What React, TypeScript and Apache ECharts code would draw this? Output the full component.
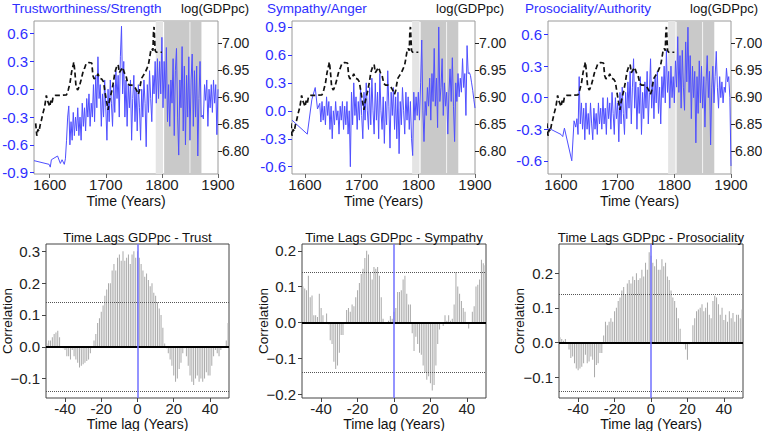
import React, { useEffect, useRef } from "react";
import * as echarts from "echarts";

const FONT = "'Liberation Sans', Arial, Helvetica, sans-serif";
const FONT_TICK = "'Liberation Sans Narrow', 'Arial Narrow', 'Liberation Sans', Arial, sans-serif";
const BLUE_TEXT = "#2f2fff";
const BLUE_LINE = "#4f4fff";

// ---------- GDP (log GDP per capita), shared by the three top panels ----------
const GDP_YEARS = [
  1575, 1577, 1579, 1581, 1583, 1585, 1588, 1591, 1594, 1596, 1598, 1600, 1602, 1604, 1606, 1610, 1620, 1630,
  1633, 1636, 1639, 1642, 1643, 1645, 1647, 1650, 1653, 1656, 1659, 1662, 1665, 1670, 1675, 1677, 1679, 1683,
  1686, 1689, 1693, 1696, 1698, 1700, 1702, 1704, 1706, 1708, 1711, 1714, 1716, 1719, 1722, 1724, 1727, 1730,
  1733, 1736, 1739, 1742, 1746, 1750, 1753, 1756, 1758, 1760, 1762, 1764, 1767, 1770, 1773, 1776, 1778, 1780,
  1782, 1784, 1785, 1786, 1788, 1790, 1795, 1800,
];
const GDP_LOG = [
  6.851, 6.828, 6.840, 6.836, 6.848, 6.856, 6.870, 6.882, 6.903, 6.893, 6.888, 6.882, 6.893, 6.888, 6.900, 6.903, 6.903, 6.904,
  6.913, 6.925, 6.946, 6.960, 6.965, 6.945, 6.918, 6.913, 6.920, 6.932, 6.945, 6.953, 6.962, 6.964, 6.963, 6.940, 6.934, 6.935,
  6.943, 6.935, 6.933, 6.928, 6.913, 6.900, 6.888, 6.876, 6.890, 6.900, 6.913, 6.930, 6.945, 6.955, 6.960, 6.945, 6.950, 6.955,
  6.945, 6.940, 6.925, 6.922, 6.922, 6.920, 6.916, 6.910, 6.905, 6.912, 6.925, 6.935, 6.940, 6.945, 6.952, 6.960, 6.972, 6.985,
  6.990, 6.986, 7.020, 7.030, 6.986, 6.983, 6.983, 6.983,
];

// ---------- Years of the dense part of the three moral series ----------
const DENSE_YEARS = [
  1630, 1632, 1634, 1636, 1638, 1640, 1642, 1644, 1646, 1648,
  1650, 1652, 1654, 1656, 1658, 1660, 1662, 1664, 1666, 1668,
  1670, 1672, 1674, 1676, 1678, 1680, 1682, 1684, 1686, 1688,
  1690, 1692, 1694, 1696, 1698, 1700, 1702, 1704, 1706, 1708,
  1710, 1712, 1714, 1716, 1718, 1720, 1722, 1724, 1726, 1728,
  1730, 1732, 1734, 1736, 1738, 1740, 1742, 1744, 1746, 1748,
  1750, 1752, 1754, 1756, 1758, 1760, 1762, 1764, 1766, 1768,
  1770, 1772, 1774, 1776, 1778, 1780, 1782, 1784, 1786, 1788,
  1790, 1792, 1794, 1796, 1798, 1800, 1802, 1804, 1806, 1808,
  1810, 1812, 1814, 1816, 1818, 1820, 1822, 1824, 1826, 1828,
  1830, 1832, 1834, 1836, 1838, 1840, 1842, 1844, 1846, 1848,
  1850, 1852, 1854, 1856, 1858, 1860, 1862, 1864, 1866, 1868,
  1870, 1872, 1874, 1876, 1878, 1880, 1882, 1884, 1886, 1888,
  1890, 1892, 1894, 1896, 1898, 1900,
];

// Trustworthiness / Strength
const TRUST_EARLY_YEARS = [1572, 1599, 1601, 1603, 1614, 1619, 1622, 1626, 1628];
const TRUST_EARLY = [-0.77, -0.81, -0.84, -0.76, -0.72, -0.8, -0.76, -0.81, -0.75];
const TRUST_DENSE = [
  -0.55, -0.3, -0.18, -0.6, -0.35, -0.55, -0.25, -0.5, -0.3, -0.45,
  -0.2, -0.5, -0.3, -0.55, -0.15, -0.4, -0.2, -0.45, -0.1, -0.3,
  -0.05, -0.4, -0.15, -0.3, 0.05, -0.35, 0.15, -0.2, 0.35, -0.1,
  0.05, -0.4, -0.05, -0.3, 0.1, -0.2, -0.55, 0.0, -0.35, 0.1,
  -0.15, -0.4, 0.05, -0.25, 0.2, -0.1, 0.15, -0.3, 0.35, 0.68,
  -0.05, 0.3, -0.3, 0.1, -0.4, 0.05, -0.2, 0.1, -0.55, -0.1,
  0.15, -0.35, 0.0, -0.45, 0.05, -0.2, -0.55, 0.0, -0.3, 0.1,
  -0.15, -0.62, 0.05, -0.25, 0.2, -0.1, -0.35, 0.15, -0.05, 0.3,
  -0.15, 0.33, -0.1, 0.3, -0.05, 0.56, -0.2, 0.3, -0.1, 0.45,
  -0.35, 0.05, -0.4, 0.1, -0.15, 0.33, -0.5, 0.2, 0.44, -0.3,
  -0.71, 0.1, -0.2, 0.46, -0.45, 0.25, -0.6, 0.15, -0.3, 0.35,
  -0.55, 0.1, 0.38, -0.4, 0.2, -0.3, 0.25, -0.72, -0.1, 0.3,
  -0.3, -0.28, -0.32, 0.05, -0.12, 0.1, -0.4, 0.0, -0.2, 0.05,
  -0.25, 0.1, -0.15, 0.05, -0.49, 0.0,
];

// Sympathy / Anger
const SYMP_EARLY_YEARS = [1577, 1604, 1612, 1618, 1622, 1626, 1628];
const SYMP_EARLY = [-0.1, -0.25, 0.12, 0.25, 0.02, 0.08, -0.12];
const SYMP_DENSE = [
  0.1, -0.1, 0.05, -0.15, 0.15, -0.05, 0.1, -0.2, 0.05, -0.3,
  0.0, -0.15, 0.1, -0.1, 0.0, -0.25, 0.05, -0.1, 0.1, -0.2,
  0.05, -0.15, 0.1, -0.25, 0.0, -0.6, 0.2, -0.15, 0.3, -0.05,
  0.15, -0.2, 0.1, -0.1, 0.25, -0.05, -0.3, 0.2, -0.1, 0.3,
  0.0, -0.2, 0.25, -0.15, 0.35, 0.0, -0.25, 0.3, -0.1, 0.2,
  -0.3, 0.4, 0.0, -0.2, 0.15, -0.35, 0.1, -0.15, 0.43, 0.05,
  -0.4, 0.2, -0.05, 0.25, -0.2, 0.15, -0.3, 0.2, -0.46, 0.1,
  -0.15, 0.25, 0.0, -0.25, 0.2, -0.1, 0.15, -0.2, 0.1, -0.3,
  -0.48, 0.2, -0.1, 0.15, -0.05, 0.2, -0.1, 0.3, 0.76, 0.0,
  -0.33, 0.1, -0.05, 0.25, 0.05, 0.35, -0.1, 0.4, 0.1, 0.67,
  0.05, 0.35, -0.18, 0.9, 0.1, 0.25, 0.56, -0.05, 0.3, 0.05,
  0.2, -0.25, 0.2, 0.45, 0.1, 0.57, 0.05, -0.33, 0.3, 0.1,
  0.4, 0.15, 0.35, 0.2, 0.56, 0.25, 0.4, -0.05, 0.7, 0.4,
  0.41, 0.38, 0.3, 0.22, 0.12, 0.03,
];

// Prosociality / Authority
const PROS_EARLY_YEARS = [1578, 1600, 1603, 1606, 1619, 1623, 1626, 1628];
const PROS_EARLY = [-0.29, -0.35, -0.37, -0.29, -0.6, -0.22, -0.28, -0.2];
const PROS_DENSE = [
  -0.35, 0.2, -0.25, -0.05, -0.3, -0.1, -0.4, -0.05, -0.3, -0.15,
  -0.35, -0.05, -0.25, -0.4, -0.1, -0.3, -0.15, -0.35, -0.05, -0.25,
  -0.1, -0.3, 0.0, -0.25, -0.1, -0.35, 0.0, -0.2, -0.05, -0.3,
  0.05, -0.15, -0.35, 0.0, -0.2, -0.05, -0.42, 0.05, -0.25, 0.1,
  -0.15, -0.35, 0.05, -0.2, 0.15, -0.1, 0.25, -0.25, 0.1, 0.37,
  -0.1, 0.15, -0.3, 0.1, -0.15, 0.2, -0.35, 0.05, -0.2, 0.15,
  -0.1, 0.25, -0.25, 0.05, 0.37, -0.1, 0.15, -0.2, 0.2, -0.05,
  0.25, -0.15, 0.1, -0.25, 0.2, 0.0, 0.3, -0.05, 0.45, 0.05,
  0.25, -0.1, 0.3, 0.0, 0.2, -0.05, 0.35, 0.1, 0.58, 0.05,
  0.4, -0.1, 0.45, 0.1, -0.12, 0.53, 0.15, 0.67, 0.05, 0.4,
  -0.2, 0.3, 0.0, 0.25, -0.43, 0.2, -0.15, 0.35, -0.05, 0.3,
  -0.1, 0.2, -0.28, 0.15, 0.4, 0.0, 0.25, -0.45, 0.1, 0.3,
  -0.05, 0.2, 0.44, 0.1, -0.1, 0.2, 0.0, 0.15, -0.05, 0.1,
  0.05, 0.28, 0.15, 0.2, 0.0, -0.65,
];

// ---------- Cross-correlation by time lag ----------
const LAGS = [
  -50, -49, -48, -47, -46, -45, -44, -43, -42, -41,
  -40, -39, -38, -37, -36, -35, -34, -33, -32, -31,
  -30, -29, -28, -27, -26, -25, -24, -23, -22, -21,
  -20, -19, -18, -17, -16, -15, -14, -13, -12, -11,
  -10, -9, -8, -7, -6, -5, -4, -3, -2, -1,
  0, 1, 2, 3, 4, 5, 6, 7, 8, 9,
  10, 11, 12, 13, 14, 15, 16, 17, 18, 19,
  20, 21, 22, 23, 24, 25, 26, 27, 28, 29,
  30, 31, 32, 33, 34, 35, 36, 37, 38, 39,
  40, 41, 42, 43, 44, 45, 46, 47, 48, 49,
  50,
];
const TRUST_LAG = [
  0.01, 0.02, 0.02, 0.03, 0.04, 0.045, 0.05, 0.03, 0.0, -0.005,
  -0.01, -0.03, -0.03, -0.04, -0.01, -0.03, -0.04, -0.05, -0.065, -0.06,
  -0.055, -0.05, -0.045, -0.04, -0.02, 0.0, 0.02, 0.04, 0.075, 0.09,
  0.11, 0.13, 0.16, 0.18, 0.2, 0.2, 0.24, 0.26, 0.24, 0.28,
  0.29, 0.27, 0.3, 0.27, 0.28, 0.29, 0.26, 0.29, 0.3, 0.28,
  0.3, 0.28, 0.26, 0.24, 0.22, 0.23, 0.21, 0.19, 0.2, 0.17,
  0.16, 0.14, 0.12, 0.1, 0.06, 0.01, -0.005, -0.02, -0.04, -0.06,
  -0.09, -0.11, -0.1, -0.07, -0.05, -0.02, -0.005, -0.03, -0.06, -0.09,
  -0.11, -0.12, -0.1, -0.09, -0.11, -0.1, -0.11, -0.1, -0.08, -0.09,
  -0.09, -0.06, -0.03, -0.01, -0.02, -0.03, -0.01, 0.0, 0.0, 0.02,
  0.075,
];
const SYMP_LAG = [
  0.1, 0.095, 0.09, 0.13, 0.07, 0.075, 0.02, 0.02, 0.015, 0.08,
  0.04, 0.02, 0.0, 0.025, -0.005, -0.05, -0.06, -0.11, -0.13, -0.12,
  -0.085, -0.035, -0.035, 0.0, 0.035, 0.04, 0.03, 0.05, 0.045, 0.07,
  0.09, 0.11, 0.135, 0.15, 0.18, 0.2, 0.19, 0.14, 0.12, 0.155,
  0.15, 0.155, 0.13, 0.07, 0.01, 0.0, 0.0, 0.005, 0.018, 0.01,
  0.03, 0.04, 0.085, 0.085, 0.09, 0.12, 0.13, 0.08, 0.05, 0.05,
  -0.03, -0.08, -0.04, -0.06, -0.085, -0.09, -0.12, -0.14, -0.16, -0.15,
  -0.17, -0.19, -0.175, -0.12, -0.06, -0.02, 0.0, -0.01, 0.02, 0.005,
  0.02, 0.005, 0.01, 0.05, 0.14, 0.1, 0.08, 0.06, 0.04, 0.03,
  0.0, -0.017, 0.0, 0.03, 0.045, 0.1, 0.105, 0.12, 0.175, 0.165,
  0.16,
];
const PROS_LAG = [
  0.015, 0.01, 0.005, 0.01, 0.0, -0.02, -0.045, -0.04, -0.06, -0.075,
  -0.08, -0.075, -0.07, -0.06, -0.035, -0.06, -0.055, -0.04, -0.05, -0.1,
  -0.065, -0.06, -0.03, -0.03, 0.02, 0.06, 0.05, 0.06, 0.07, 0.06,
  0.09, 0.1, 0.12, 0.13, 0.15, 0.16, 0.14, 0.17, 0.18, 0.17,
  0.19, 0.18, 0.2, 0.18, 0.185, 0.21, 0.19, 0.23, 0.21, 0.26,
  0.25, 0.23, 0.22, 0.24, 0.21, 0.21, 0.24, 0.22, 0.23, 0.19,
  0.18, 0.15, 0.13, 0.12, 0.1, 0.07, 0.04, 0.0, -0.005, -0.02,
  -0.05, -0.005, 0.0, 0.05, 0.07, 0.09, 0.095, 0.1, 0.11, 0.09,
  0.1, 0.115, 0.08, 0.07, 0.12, 0.135, 0.13, 0.11, 0.08, 0.1,
  0.065, 0.08, 0.06, 0.09, 0.07, 0.085, 0.06, 0.08, 0.08, 0.07,
  0.095,
];
const SIGNIFICANCE = 0.1414;

// ---------- Tick labels ----------
const TOP_X_TICKS = [1600, 1700, 1800, 1900];
const GDP_TICKS = [6.8, 6.85, 6.9, 6.95, 7.0];
const TRUST_TICKS = [-0.9, -0.6, -0.3, 0, 0.3, 0.6];
const SYMP_TICKS = [-0.6, -0.3, 0, 0.3, 0.6, 0.9];
const PROS_TICKS = [-0.6, -0.3, 0, 0.3, 0.6];
const LAG_X_TICKS = [-40, -20, 0, 20, 40];
const TRUST_LAG_TICKS = [-0.1, 0, 0.1, 0.2, 0.3];
const SYMP_LAG_TICKS = [-0.2, -0.1, 0, 0.1, 0.2];
const PROS_LAG_TICKS = [-0.1, 0, 0.1, 0.2];

const TOP_TITLES = ["Trustworthiness/Strength", "Sympathy/Anger", "Prosociality/Authority"];
const BOTTOM_TITLES = ["Time Lags GDPpc - Trust", "Time Lags GDPpc - Sympathy", "Time Lags GDPpc - Prosociality"];

const zip = (xs: number[], ys: number[]) => xs.map((x, i) => [x, ys[i]]);

export default function App() {
  const ref = useRef<HTMLDivElement>(null);

  useEffect(() => {
    if (!ref.current) return;
    const chart = echarts.init(ref.current, undefined, { renderer: "svg" });

    const topGrids = [
      { left: 34, width: 184, xmin: 1572, ymin: -0.914, ymax: 0.736, ticks: TRUST_TICKS },
      { left: 292, width: 183, xmin: 1577, ymin: -0.678, ymax: 0.964, ticks: SYMP_TICKS },
      { left: 548, width: 183, xmin: 1577, ymin: -0.726, ymax: 0.729, ticks: PROS_TICKS },
    ];
    const botGrids = [
      { left: 46, width: 183, ymin: -0.161, ymax: 0.323, ticks: TRUST_LAG_TICKS },
      { left: 302, width: 184, ymin: -0.211, ymax: 0.219, ticks: SYMP_LAG_TICKS },
      { left: 559, width: 184, ymin: -0.16, ymax: 0.284, ticks: PROS_LAG_TICKS },
    ];
    const topSeriesData = [
      zip([...TRUST_EARLY_YEARS, ...DENSE_YEARS], [...TRUST_EARLY, ...TRUST_DENSE]),
      zip([...SYMP_EARLY_YEARS, ...DENSE_YEARS], [...SYMP_EARLY, ...SYMP_DENSE]),
      zip([...PROS_EARLY_YEARS, ...DENSE_YEARS], [...PROS_EARLY, ...PROS_DENSE]),
    ];
    const lagData = [zip(LAGS, TRUST_LAG), zip(LAGS, SYMP_LAG), zip(LAGS, PROS_LAG)];
    const gdpData = zip(GDP_YEARS, GDP_LOG);

    const grid: any[] = [];
    const xAxis: any[] = [];
    const yAxis: any[] = [];
    const series: any[] = [];

    const baseLabel = { fontFamily: FONT_TICK, fontSize: 15 };

    topGrids.forEach((g, i) => {
      grid.push({
        left: g.left, top: 21, width: g.width, height: 153,
        show: true, borderColor: "#9a9a9a", borderWidth: 1, backgroundColor: "transparent",
        containLabel: false, outerBoundsMode: "none",
      });
      xAxis.push({
        type: "value", gridIndex: i, min: g.xmin, max: 1900,
        axisLine: { show: false, onZero: false }, splitLine: { show: false },
        axisTick: { show: true, length: 4, customValues: TOP_X_TICKS, lineStyle: { color: "#666" } },
        axisLabel: { ...baseLabel, color: "#222", margin: 3, customValues: TOP_X_TICKS, formatter: (v: number) => String(v) },
      });
    });
    topGrids.forEach((g, i) => {
      yAxis.push({
        type: "value", gridIndex: i, position: "left", min: g.ymin, max: g.ymax,
        axisLine: { show: false, onZero: false }, splitLine: { show: false },
        axisTick: { show: true, length: 4, customValues: g.ticks, lineStyle: { color: BLUE_TEXT } },
        axisLabel: { ...baseLabel, color: BLUE_TEXT, margin: 6, customValues: g.ticks, formatter: (v: number) => v.toFixed(1) },
      });
    });
    topGrids.forEach((g, i) => {
      yAxis.push({
        type: "value", gridIndex: i, position: "right", min: 6.757, max: 7.041,
        axisLine: { show: false, onZero: false }, splitLine: { show: false },
        axisTick: { show: true, length: 4, customValues: GDP_TICKS, lineStyle: { color: "#222" } },
        axisLabel: {
          ...baseLabel, fontSize: 14, color: "#222", margin: 4, customValues: GDP_TICKS,
          formatter: (v: number) => v.toFixed(2),
        },
      });
    });
    botGrids.forEach((g, j) => {
      grid.push({
        left: g.left, top: 244, width: g.width, height: 154,
        show: true, borderColor: "#444", borderWidth: 1, backgroundColor: "transparent",
        containLabel: false, outerBoundsMode: "none",
      });
      xAxis.push({
        type: "value", gridIndex: 3 + j, min: -50.5, max: 50.5,
        axisLine: { show: false, onZero: false }, splitLine: { show: false },
        axisTick: { show: true, length: 4, customValues: LAG_X_TICKS, lineStyle: { color: "#444" } },
        axisLabel: { ...baseLabel, color: "#222", margin: 3, customValues: LAG_X_TICKS, formatter: (v: number) => String(v) },
      });
      yAxis.push({
        type: "value", gridIndex: 3 + j, position: "left", min: g.ymin, max: g.ymax,
        axisLine: { show: false, onZero: false }, splitLine: { show: false },
        axisTick: { show: true, length: 4, customValues: g.ticks, lineStyle: { color: "#444" } },
        axisLabel: {
          ...baseLabel, color: "#222", margin: 6, customValues: g.ticks,
          formatter: (v: number) => v.toFixed(1).replace("-", "\u2212"),
        },
      });
    });

    // top series
    topGrids.forEach((g, i) => {
      series.push({
        type: "line", xAxisIndex: i, yAxisIndex: i, z: 1, silent: true,
        data: [[1700, 0]], showSymbol: false, symbol: "none", lineStyle: { width: 0, opacity: 0 },
        markArea: {
          silent: true,
          data: [
            [{ xAxis: 1789, itemStyle: { color: "#e4e4e4" } }, { xAxis: 1802 }],
            [{ xAxis: 1804, itemStyle: { color: "#c9c9c9" } }, { xAxis: 1849.3 }],
            [{ xAxis: 1850.7, itemStyle: { color: "#c9c9c9" } }, { xAxis: 1870.5 }],
          ],
        },
      });
      series.push({
        type: "line", xAxisIndex: i, yAxisIndex: i, z: 3, silent: true,
        data: topSeriesData[i], showSymbol: false, symbol: "none",
        lineStyle: { color: BLUE_LINE, width: 1 },
      });
      series.push({
        type: "line", xAxisIndex: i, yAxisIndex: 3 + i, z: 4, silent: true,
        data: gdpData, showSymbol: false, symbol: "none",
        lineStyle: { color: "#111", width: 1.7, type: [5, 3] },
      });
    });

    // bottom series
    botGrids.forEach((g, j) => {
      series.push({
        type: "bar", xAxisIndex: 3 + j, yAxisIndex: 6 + j, silent: true,
        data: lagData[j], barWidth: 1, itemStyle: { color: "#a9a9a9" },
        markLine: {
          silent: true, symbol: ["none", "none"], label: { show: false },
          data: [
            { yAxis: SIGNIFICANCE, lineStyle: { color: "#555", width: 1, type: "dotted" } },
            { yAxis: -SIGNIFICANCE, lineStyle: { color: "#555", width: 1, type: "dotted" } },
            { yAxis: 0, lineStyle: { color: "#000", width: 2, type: "solid" } },
            { xAxis: 0, lineStyle: { color: "#7070ff", width: 1.5, type: "solid" } },
          ],
        },
      });
    });

    const txt = (x: number, y: number, text: string, opts: any = {}) => ({
      type: "text", x, y, rotation: opts.rotation || 0, silent: true,
      style: {
        text, fill: opts.fill || "#111", fontFamily: opts.font || FONT, fontSize: opts.fontSize || 13,
        textAlign: opts.align || "center", textVerticalAlign: "middle",
      },
    });

    const graphic: any[] = [
      txt(12, 8, TOP_TITLES[0], { fill: BLUE_TEXT, align: "left", fontSize: 13.5 }),
      txt(249, 8, "log(GDPpc)", { align: "right", fontSize: 13 }),
      txt(267, 8, TOP_TITLES[1], { fill: BLUE_TEXT, align: "left", fontSize: 13.5 }),
      txt(504, 8, "log(GDPpc)", { align: "right", fontSize: 13 }),
      txt(525, 8, TOP_TITLES[2], { fill: BLUE_TEXT, align: "left", fontSize: 13.5 }),
      txt(758, 8, "log(GDPpc)", { align: "right", fontSize: 13 }),
      txt(126, 201, "Time (Years)", { fontSize: 14 }),
      txt(383.5, 201, "Time (Years)", { fontSize: 14 }),
      txt(639.5, 201, "Time (Years)", { fontSize: 14 }),
      txt(137.5, 237.5, BOTTOM_TITLES[0], { fontSize: 13.2 }),
      txt(394, 237.5, BOTTOM_TITLES[1], { fontSize: 13.2 }),
      txt(651, 237.5, BOTTOM_TITLES[2], { fontSize: 13.2 }),
      txt(7, 321, "Correlation", { fontSize: 13.5, rotation: Math.PI / 2 }),
      txt(263, 321, "Correlation", { fontSize: 13.5, rotation: Math.PI / 2 }),
      txt(519.5, 321, "Correlation", { fontSize: 13.5, rotation: Math.PI / 2 }),
      txt(137.5, 423.5, "Time lag (Years)", { fontSize: 14 }),
      txt(394, 423.5, "Time lag (Years)", { fontSize: 14 }),
      txt(651, 423.5, "Time lag (Years)", { fontSize: 14 }),
    ];

    chart.setOption({
      animation: false,
      backgroundColor: "#ffffff",
      textStyle: { fontFamily: FONT },
      grid, xAxis, yAxis, series, graphic,
    });

    return () => chart.dispose();
  }, []);

  return (
    <div
      ref={ref}
      style={{ position: "absolute", left: 0, top: 0, width: 762, height: 431 }}
    />
  );
}
